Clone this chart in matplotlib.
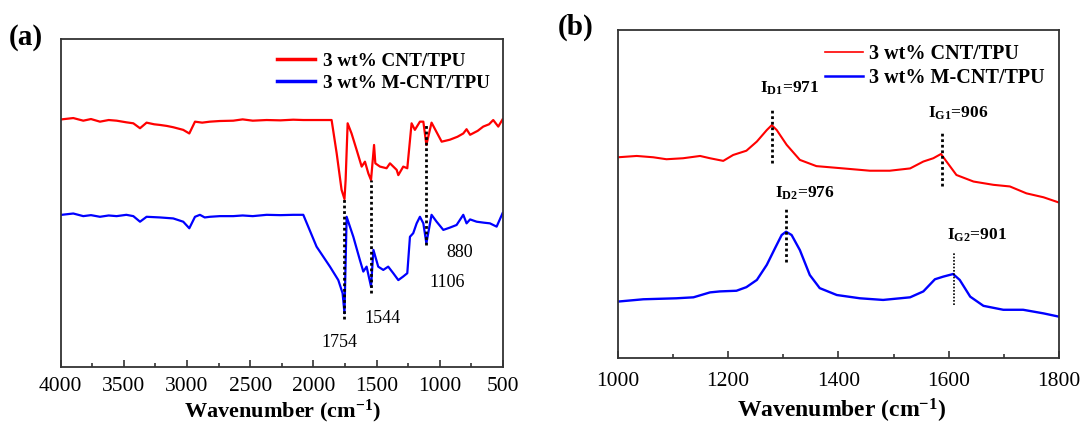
import matplotlib
matplotlib.use("Agg")
import matplotlib.pyplot as plt
from matplotlib.ticker import MultipleLocator

plt.rcParams['font.family'] = ['Liberation Serif', 'DejaVu Serif']
plt.rcParams['mathtext.fontset'] = 'custom'
plt.rcParams['mathtext.rm'] = 'Liberation Serif:bold'
plt.rcParams['mathtext.bf'] = 'Liberation Serif:bold'
plt.rcParams['mathtext.it'] = 'Liberation Serif:bold'

# ---- FTIR spectra (a) ----
ftir_wn_cnt = [3992, 3900, 3821, 3760, 3689, 3620, 3557, 3480, 3425, 3372, 3320, 3260, 3214,
               3160, 3109, 3030, 2982, 2937, 2880, 2819, 2740, 2634, 2560, 2480, 2370, 2260,
               2160, 2080, 1960, 1856, 1816, 1777, 1754, 1745, 1729, 1698, 1658, 1618, 1592,
               1565, 1544, 1520, 1510, 1473, 1421, 1394, 1341, 1328, 1289, 1257, 1223, 1197,
               1157, 1130, 1106, 1065, 985, 920, 860, 814, 788, 760, 700, 656, 610, 577, 537, 503]
ftir_cnt = [75.5, 75.9, 75.1, 75.6, 74.8, 75.3, 75.1, 74.6, 74.3, 72.8, 74.5, 74.0, 73.8,
            73.5, 73.1, 72.3, 71.2, 74.8, 74.5, 74.8, 75.0, 75.1, 75.5, 75.1, 75.3, 75.2,
            75.4, 75.3, 75.3, 75.3, 65.2, 54.0, 51.2, 57.0, 74.3, 71.2, 66.2, 61.1, 62.6,
            59.0, 57.0, 67.7, 62.1, 61.1, 60.6, 62.1, 60.1, 58.5, 61.1, 60.6, 74.3, 72.3,
            74.8, 74.8, 67.7, 74.5, 68.7, 69.3, 70.2, 71.2, 72.5, 70.8, 72.0, 73.3, 74.0, 75.3, 73.3, 75.5]

ftir_wn_mcnt = [3992, 3900, 3821, 3760, 3689, 3620, 3557, 3480, 3425, 3372, 3320, 3214, 3109,
                3030, 2982, 2937, 2898, 2860, 2819, 2740, 2634, 2560, 2480, 2370, 2260, 2160,
                2080, 1975, 1869, 1803, 1769, 1754, 1737, 1711, 1684, 1632, 1605, 1579, 1544,
                1525, 1487, 1447, 1408, 1368, 1328, 1289, 1257, 1236, 1210, 1183, 1157, 1130,
                1106, 1065, 1025, 972, 920, 867, 814, 788, 760, 708, 650, 603, 550, 503]
ftir_mcnt = [46.4, 46.8, 46.0, 46.3, 45.8, 46.2, 46.0, 46.4, 46.0, 44.3, 45.8, 45.6, 45.3,
             44.3, 42.3, 45.8, 46.4, 45.6, 45.8, 46.0, 46.0, 46.2, 46.0, 46.4, 46.3, 46.4,
             46.4, 36.7, 30.6, 26.5, 22.5, 16.4, 45.8, 42.8, 39.7, 32.6, 29.1, 30.6, 24.5,
             35.7, 30.6, 29.6, 30.6, 28.6, 26.5, 27.6, 28.6, 39.7, 40.8, 43.8, 45.8, 43.8,
             37.7, 46.4, 44.3, 41.8, 42.5, 43.3, 46.4, 43.8, 45.0, 44.3, 44.0, 43.8, 42.8, 46.9]

ftir_marks = [1754, 1544, 1106]
ftir_mark_top = [51.2, 57.0, 74.3]
ftir_mark_bottom = [14.6, 22.5, 37.2]
ftir_labels = ['1754', '1544', '1106', '880']
ftir_label_x = [1797, 1456, 943, 840]
ftir_label_y = [7.6, 14.9, 25.9, 35.0]

# ---- Raman spectra (b) ----
raman_wn_cnt = [1000, 1034, 1064, 1088, 1118, 1149, 1167, 1191, 1209, 1233, 1252, 1270, 1279,
                1288, 1306, 1330, 1360, 1409, 1457, 1493, 1530, 1554, 1572, 1586, 1596, 1614,
                1645, 1681, 1711, 1741, 1772, 1800]
raman_cnt = [61.2, 61.6, 61.2, 60.6, 60.9, 61.6, 60.9, 60.1, 61.9, 63.2, 66.0, 69.5, 71.0,
             69.5, 65.0, 60.4, 58.5, 57.8, 57.1, 57.1, 57.8, 59.9, 60.9, 62.2, 59.9, 55.8,
             53.8, 52.8, 52.3, 50.2, 49.0, 47.4]

raman_wn_mcnt = [1000, 1046, 1106, 1137, 1167, 1185, 1215, 1233, 1252, 1270, 1285, 1297, 1305,
                 1315, 1330, 1348, 1366, 1397, 1439, 1481, 1530, 1554, 1575, 1590, 1608, 1620,
                 1639, 1663, 1699, 1735, 1772, 1800]
raman_mcnt = [17.2, 17.9, 18.2, 18.5, 20.0, 20.3, 20.5, 21.6, 23.8, 28.4, 33.5, 37.5, 38.5,
              37.5, 32.9, 25.3, 21.3, 19.2, 18.2, 17.7, 18.5, 20.3, 24.0, 24.8, 25.6, 23.8,
              18.7, 15.9, 14.7, 14.7, 13.6, 12.6]

raman_marks = [1279, 1587, 1304, 1610]
raman_mark_bottom = [59.4, 52.3, 29.4, 16.2]
raman_mark_top = [75.6, 68.5, 45.6, 32.4]
raman_labels = [r'$\mathrm{I_{D1}}$=971', r'$\mathrm{I_{G1}}$=906',
                r'$\mathrm{I_{D2}}$=976', r'$\mathrm{I_{G2}}$=901']
raman_label_x = [1312, 1617, 1339, 1651]
raman_label_y = [82.2, 74.6, 50.2, 37.5]

series_names = ['3 wt% CNT/TPU', '3 wt% M-CNT/TPU']

fig = plt.figure(figsize=(10.87, 4.24), dpi=100)
ax1 = fig.add_axes([0.0558, 0.1344, 0.4069, 0.7736])
ax2 = fig.add_axes([0.5685, 0.1557, 0.4057, 0.7735])

spine_col = '#333333'
for ax in (ax1, ax2):
    for s in ax.spines.values():
        s.set_color(spine_col)
        s.set_linewidth(1.3)
    ax.set_yticks([])
    ax.tick_params(axis='x', which='both', direction='in', top=False, colors=spine_col,
                   labelcolor='black', labelsize=15.5, pad=10)
    ax.tick_params(axis='x', which='major', length=5, width=1.2)
    ax.tick_params(axis='x', which='minor', length=3, width=1.2)
    ax.set_ylim(0, 100)
ax1.tick_params(axis='x', pad=7)

xlabel = r'Wavenumber $\mathregular{(cm^{-1})}$'

# (a) FTIR
ax1.plot(ftir_wn_cnt, ftir_cnt, color='#ff0000', lw=1.6, label=series_names[0])
ax1.plot(ftir_wn_mcnt, ftir_mcnt, color='#0000ff', lw=1.6, label=series_names[1])
for x, y0, y1 in zip(ftir_marks, ftir_mark_bottom, ftir_mark_top):
    ax1.plot([x, x], [y0, y1], color='black', lw=2, ls=(0, (1, 1)))
for t, x, y in zip(ftir_labels, ftir_label_x, ftir_label_y):
    ax1.text(x, y, t, fontsize=13, ha='center', va='center')
ax1.set_xlim(4000, 500)
ax1.xaxis.set_major_locator(MultipleLocator(500))
ax1.xaxis.set_minor_locator(MultipleLocator(250))
fig.text(0.2603, 0.016, xlabel, fontsize=16, fontweight='bold', ha='center', va='baseline')
leg1 = ax1.legend(loc='upper right', frameon=False, prop={'weight': 'bold', 'size': 13.8},
                  handlelength=2.0, handletextpad=0.4, labelspacing=0.25,
                  borderaxespad=0.3)
for h in leg1.get_lines():
    h.set_linewidth(2.5)
fig.text(0.008, 0.912, '(a)', fontsize=21, fontweight='bold', va='center')

# (b) Raman
ax2.plot(raman_wn_cnt, raman_cnt, color='#ff0000', lw=1.5, label=series_names[0])
ax2.plot(raman_wn_mcnt, raman_mcnt, color='#0000ff', lw=1.7, label=series_names[1])
for i, (x, y0, y1) in enumerate(zip(raman_marks, raman_mark_bottom, raman_mark_top)):
    ax2.plot([x, x], [y0, y1], color='black', lw=2 if i < 3 else 1.2, ls=(0, (1, 1)))
for t, x, y in zip(raman_labels, raman_label_x, raman_label_y):
    ax2.text(x, y, t, fontsize=12.5, fontweight='bold', ha='center', va='center')
ax2.set_xlim(1000, 1800)
ax2.xaxis.set_major_locator(MultipleLocator(200))
ax2.xaxis.set_minor_locator(MultipleLocator(100))
fig.text(0.7746, 0.016, xlabel, fontsize=17, fontweight='bold', ha='center', va='baseline')
leg2 = ax2.legend(loc='upper right', frameon=False, prop={'weight': 'bold', 'size': 14.5},
                  handlelength=1.9, handletextpad=0.3, labelspacing=0.2,
                  borderaxespad=0.3)
leg2.get_lines()[0].set_linewidth(1.2)
leg2.get_lines()[1].set_linewidth(1.8)
fig.text(0.513, 0.936, '(b)', fontsize=21, fontweight='bold', va='center')

fig.savefig('out.png', dpi=100)
